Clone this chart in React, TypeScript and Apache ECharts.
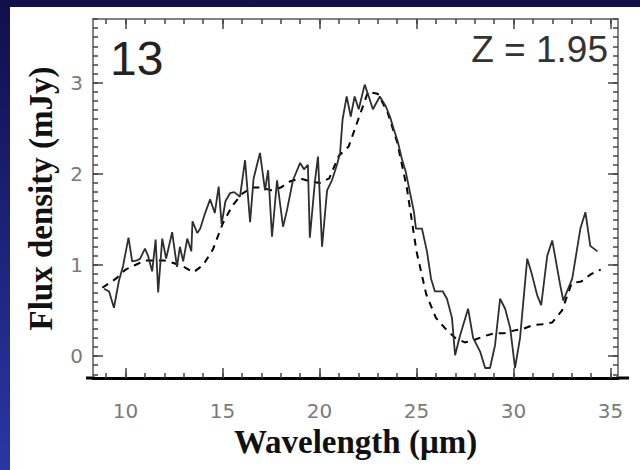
import React, { useEffect, useRef } from "react";
import * as echarts from "echarts";

// Observed spectrum (solid line): wavelength (µm) and flux density (mJy)
const obsWavelength = [
  8.89, 9.15, 9.4, 9.66, 9.87, 10.15, 10.34, 10.6, 10.75, 11.0, 11.16, 11.37, 11.55, 11.68, 11.89,
  12.09, 12.4, 12.65, 12.8, 12.97, 13.18, 13.39, 13.45, 13.7, 13.85, 14.1, 14.36, 14.6, 14.8, 14.95,
  15.15, 15.39, 15.6, 15.9, 16.16, 16.42, 16.6, 16.93, 17.19, 17.35, 17.55, 17.81, 18.12, 18.32, 18.63,
  19.0, 19.2, 19.4, 19.5, 19.77, 19.92, 20.13, 20.39, 20.64, 20.9, 21.06, 21.19, 21.4, 21.61, 21.81,
  22.02, 22.33, 22.54, 22.75, 23.11, 23.42, 23.63, 23.83, 24.04, 24.25, 24.45, 24.66, 24.87, 24.97,
  25.28, 25.54, 25.75, 25.95, 26.16, 26.36, 26.57, 26.83, 26.99, 27.25, 27.66, 27.92, 28.28, 28.54,
  28.79, 29.05, 29.31, 29.57, 29.83, 30.08, 30.34, 30.71, 30.91, 31.22, 31.43, 31.74, 32.0, 32.41,
  32.57, 33.03, 33.45, 33.71, 33.96, 34.33,
];
const obsFlux = [
  0.74, 0.71, 0.53, 0.83, 0.99, 1.3, 1.04, 1.05, 1.07, 1.18, 1.1, 0.93, 1.28, 0.7, 1.29,
  1.07, 1.36, 0.98, 1.2, 1.04, 1.29, 1.15, 1.48, 1.35, 1.4, 1.57, 1.72, 1.57, 1.86, 1.45,
  1.7, 1.79, 1.8, 1.75, 2.15, 1.47, 1.95, 2.23, 1.82, 2.04, 1.31, 1.93, 1.42, 1.6, 1.93,
  2.12, 2.05, 2.1, 1.3, 1.93, 2.19, 1.2, 1.82, 1.93, 2.1, 2.23, 2.6, 2.85, 2.63, 2.85,
  2.71, 2.98, 2.85, 2.71, 2.85, 2.74, 2.63, 2.49, 2.35, 2.16, 2.02, 1.8, 1.58, 1.4,
  1.4, 1.15, 0.85, 0.71, 0.71, 0.71, 0.63, 0.42, 0.01, 0.23, 0.52, 0.2, 0.05, -0.13,
  -0.13, 0.12, 0.63, 0.52, 0.31, -0.13, 0.2, 1.07, 0.93, 0.67, 0.56, 1.1, 1.27, 0.78,
  0.61, 0.85, 1.4, 1.58, 1.21, 1.15,
];

// Template spectrum (dashed line)
const modelWavelength = [
  8.8, 9.5, 10, 10.5, 11, 11.5, 12, 12.5, 13, 13.5, 14, 14.5, 15, 15.5, 16, 16.5, 17, 17.5, 18,
  18.5, 19, 19.5, 20, 20.5, 21, 21.5, 22, 22.5, 23, 23.5, 24, 24.5, 25, 25.5, 26, 26.5, 27, 27.5,
  28, 28.5, 29, 29.5, 30, 30.5, 31, 31.5, 32, 32.5, 33, 33.5, 34, 34.5,
];
const modelFlux = [
  0.75, 0.85, 0.95, 1.0, 1.05, 1.05, 1.05, 1.02, 0.98, 0.92, 1.0, 1.17, 1.45, 1.65, 1.78, 1.85, 1.85, 1.82, 1.85,
  1.92, 1.95, 1.92, 1.9, 1.95, 2.2, 2.3, 2.6, 2.9, 2.88, 2.68, 2.35, 1.85, 1.15, 0.68, 0.42, 0.3, 0.2, 0.15,
  0.18, 0.22, 0.25, 0.25, 0.28, 0.3, 0.34, 0.35, 0.37, 0.5, 0.8, 0.82, 0.9, 0.95,
];

const xTickLabels = [10, 15, 20, 25, 30, 35];
const yTickLabels = [0, 1, 2, 3];
const objectLabel = "13";
const redshiftLabel = "Z = 1.95";
const xTitle = "Wavelength (\u03bcm)";
const yTitle = "Flux density (mJy)";

const X_MIN = 8.32;
const X_MAX = 35.39;
const Y_MIN = -0.24;
const Y_MAX = 3.7;

export default function App() {
  const ref = useRef<HTMLDivElement>(null);

  useEffect(() => {
    document.body.style.margin = "0";
    if (!ref.current) return;
    const chart = echarts.init(ref.current, null, { renderer: "svg" });

    const xMinor: number[] = [];
    for (let v = 9; v <= 35; v++) xMinor.push(v);
    const yMinor: number[] = [];
    for (let i = -2; i <= 37; i++) yMinor.push(Math.round(i) / 10);

    const labelStyle = {
      color: "#7a7a7a",
      fontFamily: "DejaVu Sans",
      fontSize: 20,
    };
    const titleStyle = {
      color: "#111",
      fontFamily: "Liberation Serif",
      fontWeight: "bold" as const,
      fontSize: 33,
    };
    const frameColor = "#5a5a5a";
    const tickLine = { color: "#444", width: 1.5 };

    const xBase = {
      type: "value" as const,
      min: X_MIN,
      max: X_MAX,
      splitLine: { show: false },
    };
    const yBase = {
      type: "value" as const,
      min: Y_MIN,
      max: Y_MAX,
      splitLine: { show: false },
    };

    const obsData = obsWavelength.map((x, i) => [x, obsFlux[i]]);
    const modelData = modelWavelength.map((x, i) => [x, modelFlux[i]]);

    chart.setOption({
      animation: false,
      backgroundColor: "transparent",
      grid: { left: 93, right: 22, top: 19, bottom: 92, containLabel: false },
      xAxis: [
        {
          ...xBase,
          position: "bottom",
          axisLine: { show: true, onZero: false, lineStyle: { color: "#000", width: 3 } },
          axisTick: { show: true, inside: true, length: 5, customValues: xMinor, lineStyle: tickLine },
          axisLabel: { show: true, customValues: xTickLabels, margin: 23, ...labelStyle },
          name: xTitle,
          nameLocation: "middle",
          nameGap: 46,
          nameTextStyle: titleStyle,
        },
        {
          ...xBase,
          position: "bottom",
          axisLine: { show: false, onZero: false },
          axisTick: { show: true, inside: true, length: 10, customValues: xTickLabels, lineStyle: tickLine },
          axisLabel: { show: false },
        },
        {
          ...xBase,
          position: "top",
          axisLine: { show: true, onZero: false, lineStyle: { color: frameColor, width: 1.5 } },
          axisTick: { show: true, inside: true, length: 5, customValues: xMinor, lineStyle: tickLine },
          axisLabel: { show: false },
        },
        {
          ...xBase,
          position: "top",
          axisLine: { show: false, onZero: false },
          axisTick: { show: true, inside: true, length: 10, customValues: xTickLabels, lineStyle: tickLine },
          axisLabel: { show: false },
        },
      ],
      yAxis: [
        {
          ...yBase,
          position: "left",
          axisLine: { show: true, onZero: false, lineStyle: { color: frameColor, width: 1.5 } },
          axisTick: { show: true, inside: true, length: 5, customValues: yMinor, lineStyle: tickLine },
          axisLabel: { show: true, customValues: yTickLabels, margin: 10, ...labelStyle },
          name: yTitle,
          nameLocation: "middle",
          nameGap: 36,
          nameRotate: 90,
          nameTextStyle: titleStyle,
        },
        {
          ...yBase,
          position: "left",
          axisLine: { show: false, onZero: false },
          axisTick: { show: true, inside: true, length: 10, customValues: yTickLabels, lineStyle: tickLine },
          axisLabel: { show: false },
        },
        {
          ...yBase,
          position: "right",
          axisLine: { show: true, onZero: false, lineStyle: { color: frameColor, width: 1.5 } },
          axisTick: { show: true, inside: true, length: 5, customValues: yMinor, lineStyle: tickLine },
          axisLabel: { show: false },
        },
        {
          ...yBase,
          position: "right",
          axisLine: { show: false, onZero: false },
          axisTick: { show: true, inside: true, length: 10, customValues: yTickLabels, lineStyle: tickLine },
          axisLabel: { show: false },
        },
      ],
      series: [
        {
          type: "line",
          xAxisIndex: 0,
          yAxisIndex: 0,
          data: modelData,
          symbol: "none",
          showSymbol: false,
          lineStyle: { color: "#000", width: 2, type: [7, 6] },
          z: 2,
        },
        {
          type: "line",
          xAxisIndex: 0,
          yAxisIndex: 0,
          data: obsData,
          symbol: "none",
          showSymbol: false,
          lineStyle: { color: "#2e2e2e", width: 1.8 },
          z: 3,
        },
      ],
      graphic: [
        {
          type: "line",
          shape: { x1: 86, y1: 378, x2: 95, y2: 378 },
          style: { stroke: "#000", lineWidth: 3 },
        },
        {
          type: "line",
          shape: { x1: 616, y1: 378, x2: 629, y2: 378 },
          style: { stroke: "#000", lineWidth: 3 },
        },
        {
          type: "text",
          x: 110,
          y: 58,
          style: {
            text: objectLabel,
            fill: "#222",
            fontFamily: "Liberation Sans",
            fontSize: 48,
            align: "left",
            verticalAlign: "middle",
            textAlign: "left",
            textVerticalAlign: "middle",
          },
        },
        {
          type: "text",
          x: 608,
          y: 49,
          style: {
            text: redshiftLabel,
            fill: "#333",
            fontFamily: "Liberation Sans",
            fontSize: 37,
            align: "right",
            verticalAlign: "middle",
            textAlign: "right",
            textVerticalAlign: "middle",
          },
        },
      ],
    });

    return () => chart.dispose();
  }, []);

  return (
    <div
      style={{
        position: "fixed",
        left: 0,
        top: 0,
        width: 640,
        height: 470,
        background: "linear-gradient(to bottom, #10104a 0%, #1c2278 50%, #2b36a6 100%)",
        overflow: "hidden",
      }}
    >
      <div
        style={{ position: "absolute", left: 10, top: 7, right: 0, bottom: 0, background: "#ffffff" }}
      />
      <div ref={ref} style={{ position: "absolute", left: 0, top: 0, width: 640, height: 470 }} />
    </div>
  );
}
